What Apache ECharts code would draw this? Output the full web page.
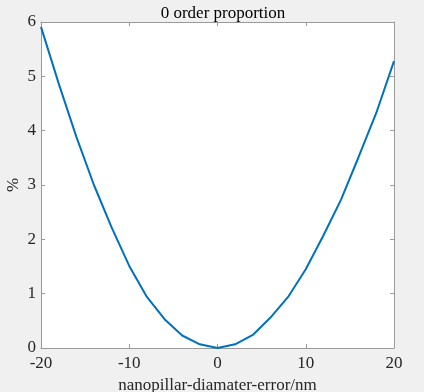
<!DOCTYPE html>
<html><head><meta charset="utf-8">
<script src="https://cdn.jsdelivr.net/npm/echarts@6/dist/echarts.min.js"></script>
<style>html,body{margin:0;padding:0;background:#f0f0f0;}#c{width:424px;height:392px;}</style>
</head><body><div id="c"></div>
<script>
const xValues = [-20,-18,-16,-14,-12,-10,-8,-6,-4,-2,0,2,4,6,8,10,12,14,16,18,20];
const yValues = [5.91,4.87,3.89,3.0,2.22,1.51,0.94,0.53,0.23,0.068,0,0.068,0.24,0.56,0.94,1.45,2.07,2.73,3.52,4.33,5.28];
const xTicks = [-20,-10,0,10,20];
const yTicks = [0,1,2,3,4,5,6];
const titleText = '0 order proportion';
const xName = 'nanopillar-diamater-error/nm';
const yName = '%';

const font = 'Liberation Serif, Times New Roman, serif';
const axisCol = '#9a9a9a';
const textCol = '#262626';
const chart = echarts.init(document.getElementById('c'), null, {renderer:'canvas'});
const baseX = {
  type:'value', min:xTicks[0], max:xTicks[xTicks.length-1], interval:10,
  axisLine:{show:true, onZero:false, lineStyle:{color:axisCol, width:1}},
  axisTick:{show:true, inside:true, length:4, lineStyle:{color:axisCol}},
  splitLine:{show:false}
};
const baseY = {
  type:'value', min:yTicks[0], max:yTicks[yTicks.length-1], interval:1,
  axisLine:{show:true, onZero:false, lineStyle:{color:axisCol, width:1}},
  axisTick:{show:true, inside:true, length:4, lineStyle:{color:axisCol}},
  splitLine:{show:false}
};
chart.setOption({
  backgroundColor:'#f0f0f0',
  animation:false,
  title:{text:titleText, left:218, textAlign:'center', top:0,
    textStyle:{fontFamily:font, fontSize:17, fontWeight:'normal', color:'#000'}},
  grid:{left:41, top:22, right:30, bottom:44, containLabel:false, outerBoundsMode:'none',
    show:true, backgroundColor:'#ffffff', borderColor:axisCol, borderWidth:0},
  graphic:[{
    type:'text', x:14, y:185, rotation:Math.PI/2,
    style:{text:yName, fontFamily:font, fontSize:17, fill:textCol, align:'center', verticalAlign:'middle'}
  }],
  xAxis:[
    Object.assign({}, baseX, {position:'bottom', name:xName, nameLocation:'middle', nameGap:27,
      nameTextStyle:{fontFamily:font, fontSize:17, color:textCol},
      axisLabel:{show:true, margin:7, fontFamily:font, fontSize:17, color:textCol}}),
    Object.assign({}, baseX, {position:'top', axisLabel:{show:false}})
  ],
  yAxis:[
    Object.assign({}, baseY, {position:'left',
      axisLabel:{show:true, margin:5, fontFamily:font, fontSize:17, color:textCol}}),
    Object.assign({}, baseY, {position:'right', axisLabel:{show:false}})
  ],
  series:[{
    type:'line', xAxisIndex:0, yAxisIndex:0,
    data:xValues.map((x,i)=>[x,yValues[i]]),
    showSymbol:false, symbol:'none',
    lineStyle:{color:'#0072BD', width:2}
  }]
});
</script></body></html>
